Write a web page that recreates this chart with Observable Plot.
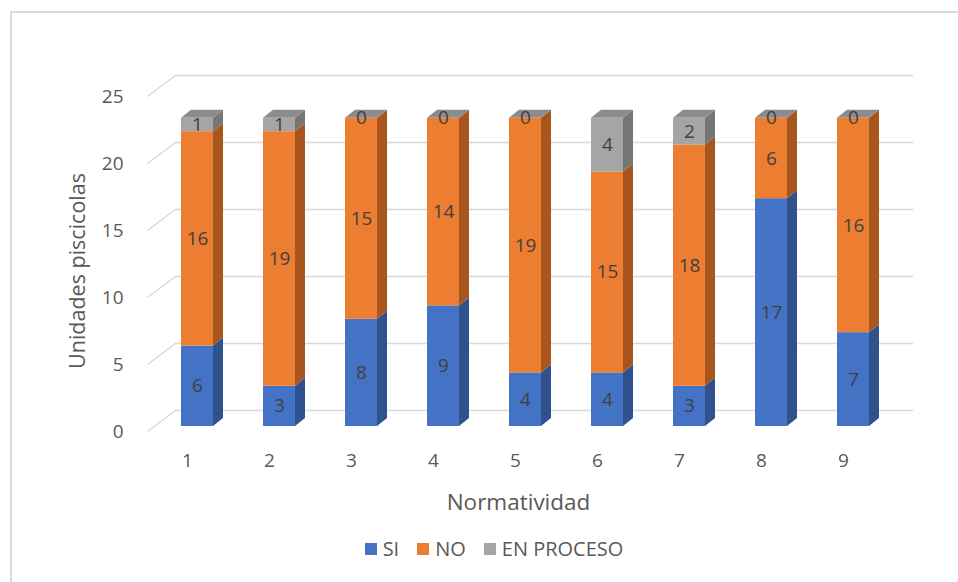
<!DOCTYPE html>
<html>
<head>
<meta charset="utf-8">
<script src="https://cdn.jsdelivr.net/npm/d3@7"></script>
<script src="https://cdn.jsdelivr.net/npm/@observablehq/plot@0.6"></script>
<style>
  html, body { margin: 0; padding: 0; background: #fff; }
  body { width: 958px; height: 582px; position: relative; overflow: hidden; font-family: "Open Sans", sans-serif; }
  #frame { position: absolute; left: 10px; top: 11px; width: 980px; height: 600px; border: 2px solid #d9d9d9; box-sizing: border-box; }
  #chart { position: absolute; left: 0; top: 0; }
  #legend { position: absolute; left: 15px; width: 958px; top: 536px; display: flex; justify-content: center; gap: 18px; font-size: 20px; color: #595959; line-height: 26px; }
  #legend span.item { display: flex; align-items: center; }
  #legend span.sw { display: inline-block; width: 12px; height: 12px; margin-right: 6px; }
</style>
</head>
<body>
<div id="frame"></div>
<div id="chart"></div>
<div id="legend"></div>
<script>
// ---- data ----
const categories = ["1", "2", "3", "4", "5", "6", "7", "8", "9"];
const seriesNames = ["SI", "NO", "EN PROCESO"];
const siValues = [6, 3, 8, 9, 4, 4, 3, 17, 7];
const noValues = [16, 19, 15, 14, 19, 15, 18, 6, 16];
const enProcesoValues = [1, 1, 0, 0, 0, 4, 2, 0, 0];
const yTicks = [0, 5, 10, 15, 20, 25];

// ---- styling ----
const frontColors = {"SI": "#4472c4", "NO": "#ed7d31", "EN PROCESO": "#a5a5a5"};
const sideColors  = {"SI": "#2f528f", "NO": "#a9561e", "EN PROCESO": "#767676"};
const topColor = "#8c8c8c";

const W = 958, H = 525;
const mL = 156, mR = 64, mT = 91, mB = 99;
const xDomain = [0.5, 9.5], yDomain = [0, 25];
const pxPerX = (W - mL - mR) / (xDomain[1] - xDomain[0]);
const pxPerY = (H - mT - mB) / (yDomain[1] - yDomain[0]);
const px2x = p => p / pxPerX, px2y = p => p / pxPerY;

const halfW = px2x(16);          // half bar width
const depthX = px2x(10), depthY = px2y(8);   // bar depth
// floor/wall geometry
const gFrontX = xDomain[0] - px2x(9), gBackX = xDomain[0] + px2x(19), gEndX = xDomain[1] + px2x(19);
const gFrontDY = -px2y(5), gBackDY = px2y(16);

// ---- build stacked segments ----
const seriesVals = {"SI": siValues, "NO": noValues, "EN PROCESO": enProcesoValues};
const segments = [];
categories.forEach((c, i) => {
  let base = 0;
  for (const s of seriesNames) {
    const v = seriesVals[s][i];
    segments.push({cat: i + 1, series: s, value: v, y1: base, y2: base + v, id: `${i}-${s}`});
    base += v;
  }
});
// side faces: parallelograms
const sidePts = [];
for (const d of segments) {
  if (d.value === 0) continue;
  const r = d.cat + halfW;
  sidePts.push({id: d.id, x: r, y1: d.y1, y2: d.y2, fill: sideColors[d.series]});
  sidePts.push({id: d.id, x: r + depthX, y1: d.y1 + depthY, y2: d.y2 + depthY, fill: sideColors[d.series]});
}
// top faces
const topPts = [];
categories.forEach((c, i) => {
  const top = segments.filter(d => d.cat === i + 1).reduce((m, d) => Math.max(m, d.y2), 0);
  const l = i + 1 - halfW, r = i + 1 + halfW;
  topPts.push({id: i, y: top, x1: l, x2: r});
  topPts.push({id: i, y: top + depthY, x1: l + depthX, x2: r + depthX});
});
// gridlines
const gridDiag = yTicks.map(t => ({x1: gFrontX, y1: t + gFrontDY, x2: gBackX, y2: t + gBackDY}));
const gridBack = yTicks.map(t => ({y: t + gBackDY, x1: gBackX, x2: gEndX}));

const chart = Plot.plot({
  width: W, height: H,
  marginLeft: mL, marginRight: mR, marginTop: mT, marginBottom: mB,
  x: {type: "linear", domain: xDomain, axis: null},
  y: {type: "linear", domain: yDomain, axis: null},
  color: {type: "identity"},
  style: {fontFamily: "'Open Sans', sans-serif", background: "transparent", overflow: "visible"},
  marks: [
    Plot.link(gridDiag, {x1: "x1", y1: "y1", x2: "x2", y2: "y2", stroke: "#d9d9d9", strokeWidth: 1.5}),
    Plot.ruleY(gridBack, {y: "y", x1: "x1", x2: "x2", stroke: "#d9d9d9", strokeWidth: 1.5}),
    Plot.areaY(sidePts, {x: "x", y1: "y1", y2: "y2", z: "id", fill: "fill", curve: "linear"}),
    Plot.areaX(topPts, {y: "y", x1: "x1", x2: "x2", z: "id", fill: topColor, curve: "linear"}),
    Plot.rect(segments.filter(d => d.value > 0), {
      x1: d => d.cat - halfW, x2: d => d.cat + halfW, y1: "y1", y2: "y2",
      fill: d => frontColors[d.series]
    }),
    Plot.text(segments, {
      x: "cat", y: d => (d.y1 + d.y2) / 2, text: d => String(d.value),
      fill: "#404040", fontSize: 19
    }),
    Plot.text(categories, {x: (d, i) => i + 1, y: () => 0, text: d => d, dy: 34, dx: -10, fill: "#595959", fontSize: 19}),
    Plot.text(yTicks, {x: () => xDomain[0], y: d => d, text: d => String(d), dx: -33, dy: 5, textAnchor: "end", fill: "#595959", fontSize: 19}),
    Plot.text(["Normatividad"], {frameAnchor: "bottom", text: d => d, lineAnchor: "middle", dy: 76, dx: -7, fill: "#595959", fontSize: 22.5}),
    Plot.text(["Unidades piscicolas"], {frameAnchor: "left", text: d => d, rotate: -90, textAnchor: "middle", lineAnchor: "middle", dx: -78, dy: 12, fill: "#595959", fontSize: 21.5})
  ]
});
document.getElementById("chart").append(chart);

const legend = document.getElementById("legend");
for (const s of seriesNames) {
  const item = document.createElement("span");
  item.className = "item";
  item.innerHTML = `<span class="sw" style="background:${frontColors[s]}"></span>${s}`;
  legend.append(item);
}
</script>
</body>
</html>
